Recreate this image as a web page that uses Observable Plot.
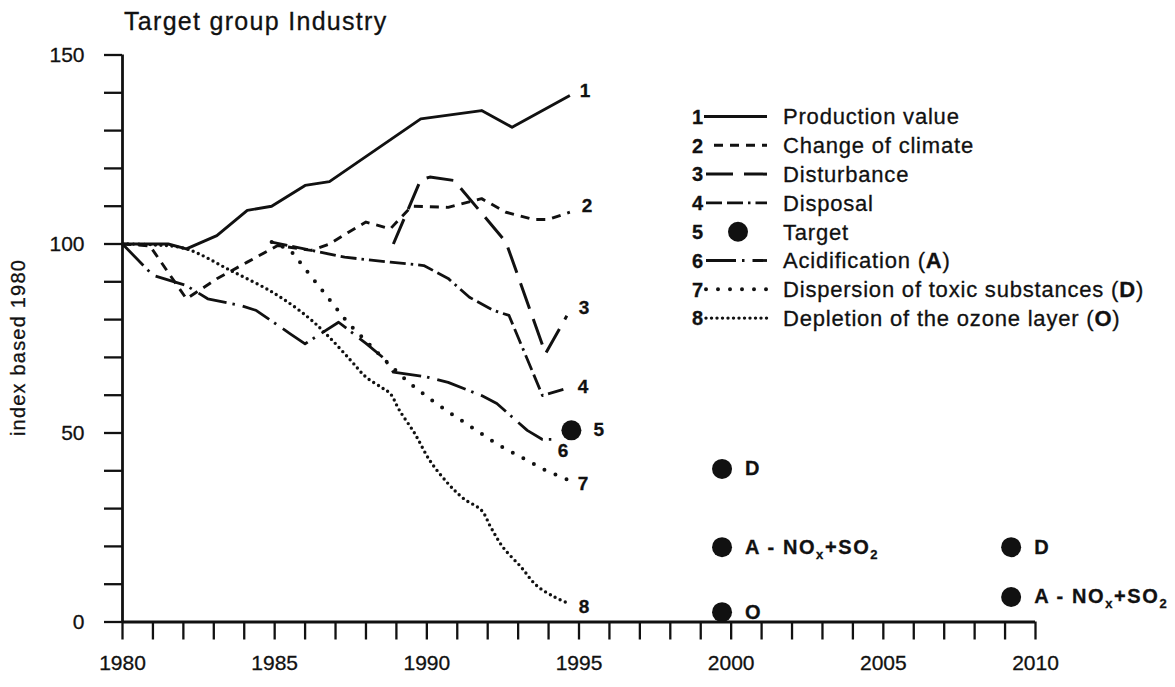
<!DOCTYPE html>
<html>
<head>
<meta charset="utf-8">
<script src="https://cdn.jsdelivr.net/npm/d3@7"></script>
<script src="https://cdn.jsdelivr.net/npm/@observablehq/plot@0.6"></script>
<style>
  body { margin: 0; background: #fff; font-family: "Liberation Sans", Arial, sans-serif; color: #111; }
  #wrap { position: relative; width: 1175px; height: 687px; overflow: hidden; }
  #title { position: relative; height: 40px; }
  #title span { position: absolute; left: 124px; top: 9px; font-size: 25px; line-height: 1; letter-spacing: 1.3px; white-space: nowrap; -webkit-text-stroke: 0.3px #111; }
  #legend { position: absolute; left: 0; top: 0; pointer-events: none; }
  #wrap svg text { stroke: #111; stroke-width: 0.3px; }
</style>
</head>
<body>
<div id="wrap">
  <div id="title"><span>Target group Industry</span></div>
  <div id="chart"></div>
</div>
<script>
// ---------------- data ----------------
const seriesNumbers = ["1", "2", "3", "4", "5", "6", "7", "8"];
const seriesNames = [
  "Production value", "Change of climate", "Disturbance", "Disposal", "Target",
  "Acidification (A)", "Dispersion of toxic substances (D)", "Depletion of the ozone layer (O)"
];

// 1 Production value
const s1Years  = [1980, 1981.5, 1982.1, 1983.1, 1984.1, 1984.9, 1986, 1986.8, 1989.8, 1991.8, 1992.8, 1994.7];
const s1Values = [100, 100, 98.7, 102.2, 108.9, 110, 115.5, 116.5, 133.1, 135.3, 130.9, 139.3];
// 2 Change of climate
const s2Years  = [1980, 1980.9, 1982.1, 1983.1, 1984.1, 1985.1, 1986.2, 1986.8, 1987.4, 1988, 1988.8, 1989.5, 1990.7, 1991.8, 1992.6, 1993.5, 1994, 1994.7];
const s2Values = [100, 99.5, 85.5, 90.8, 95.2, 99.6, 98.3, 100, 103, 105.8, 104, 110, 109.7, 112, 108.4, 106.5, 106.5, 108.4];
// 3 Disturbance
const s3Years  = [1988.9, 1989.8, 1990.1, 1990.9, 1992.6, 1993.9, 1994.6];
const s3Values = [100, 117, 117.7, 116.8, 100.5, 71, 81];
// 4 Disposal
const s4Years  = [1984.9, 1986.2, 1987.3, 1988.8, 1989.9, 1990.7, 1991.4, 1992.2, 1992.7, 1993.8, 1994.6];
const s4Values = [100.5, 98.3, 96.5, 95.2, 94.3, 90.9, 85.9, 82.4, 81.1, 59.9, 61.8];
// 6 Acidification (A)
const s6Years  = [1980, 1981, 1982.1, 1982.8, 1983.9, 1984.4, 1985.5, 1986, 1987.1, 1988, 1988.6, 1988.9, 1990, 1990.7, 1991.8, 1992.3, 1993.3, 1993.8, 1994.3];
const s6Values = [100, 91.7, 89, 85.5, 83.7, 82.4, 76.3, 73.6, 79.3, 73.7, 69.7, 66.1, 64.8, 63.4, 59.9, 57.8, 50.7, 48.3, 48.3];
// 7 Dispersion of toxic substances (D)
const s7Years  = [1984.9, 1985.5, 1985.7, 1987.4, 1988.7, 1989.4, 1990.1, 1990.8, 1991.55, 1992.3, 1993.1, 1993.9, 1994.7];
const s7Values = [100.5, 98.5, 96.5, 79.2, 68.7, 63.4, 59, 55.1, 51.1, 47.1, 43.6, 40.1, 37.4];
// 8 Depletion of the ozone layer (O)
const s8Years  = [1980, 1981, 1982.1, 1983.55, 1985, 1986.1, 1986.8, 1987.5, 1988, 1988.5, 1988.8, 1989.1, 1989.6, 1990.1, 1990.7, 1991.2, 1991.8, 1992.1, 1992.5, 1993.1, 1993.6, 1994.2, 1994.7];
const s8Values = [100, 99.8, 98.7, 93, 86.9, 80.6, 75.3, 69.2, 64.8, 62.1, 60.4, 56, 49.9, 42.7, 36.6, 32.7, 29.5, 25.1, 19.8, 14.5, 9.7, 6.6, 4.8];
// 5 Targets
const targetYears  = [1994.75, 1999.7, 1999.7, 1999.7, 2009.2, 2009.2];
const targetValues = [50.7, 40.5, 19.8, 2.6, 19.8, 6.6];
const targetLabels = ["", "D", "A - NOx+SO2", "O", "D", "A - NOx+SO2"];

// axis ticks
const yTicks = d3.range(0, 151, 10);
const yTickLabels = [0, 50, 100, 150];
const xTicks = d3.range(1980, 2011, 1);
const xTickLabels = [1980, 1985, 1990, 1995, 2000, 2005, 2010];

// ---------------- tables built from the arrays ----------------
const toRows = (years, values) => years.map((year, i) => ({year, value: values[i]}));
const series = {
  "1": toRows(s1Years, s1Values),
  "2": toRows(s2Years, s2Values),
  "3": toRows(s3Years, s3Values),
  "4": toRows(s4Years, s4Values),
  "6": toRows(s6Years, s6Values),
  "7": toRows(s7Years, s7Values),
  "8": toRows(s8Years, s8Values)
};
const targets = targetYears.map((year, i) => ({year, value: targetValues[i], label: targetLabels[i]}));

// ---------------- styles ----------------
const INK = "#111";
const lineStyle = {
  "1": {strokeWidth: 2.9, strokeDasharray: null, strokeLinecap: "butt", curve: "linear"},
  "2": {strokeWidth: 2.9, strokeDasharray: "9 7", strokeLinecap: "butt", curve: "linear"},
  "3": {strokeWidth: 3.0, strokeDasharray: "27 11", strokeLinecap: "butt", curve: "linear"},
  "4": {strokeWidth: 2.8, strokeDasharray: "16 5 16 5 2.5 5", strokeLinecap: "butt", curve: "linear"},
  "6": {strokeWidth: 2.8, strokeDasharray: "30 6 2.5 8", strokeLinecap: "butt", curve: "linear"},
  "7": {strokeWidth: 4.0, strokeDasharray: "0 12", strokeLinecap: "round", curve: "linear"},
  "8": {strokeWidth: 3.4, strokeDasharray: "0 5.5", strokeLinecap: "round", curve: "catmull-rom"}
};
const labelOffset = {
  "1": [10, -5], "2": [12, -6], "3": [12, -8], "4": [11, -1],
  "6": [0, 11], "7": [8, 3], "8": [9, 3]
};

const lineMarks = [];
const labelMarks = [];
for (const k of Object.keys(series)) {
  const st = lineStyle[k];
  lineMarks.push(Plot.line(series[k], {
    x: "year", y: "value", stroke: INK, strokeWidth: st.strokeWidth,
    strokeDasharray: st.strokeDasharray || undefined, strokeLinecap: st.strokeLinecap,
    strokeLinejoin: "round", curve: st.curve
  }));
  const last = series[k][series[k].length - 1];
  labelMarks.push(Plot.text([last], {
    x: "year", y: "value", text: () => k, dx: labelOffset[k][0], dy: labelOffset[k][1],
    textAnchor: "start", fontWeight: "bold", fontSize: 19, fill: INK
  }));
}
// label "5" beside the first target dot
labelMarks.push(Plot.text([targets[0]], {
  x: "year", y: "value", text: () => "5", dx: 22, dy: 0,
  textAnchor: "start", fontWeight: "bold", fontSize: 19, fill: INK
}));

const chart = Plot.plot({
  width: 1175,
  height: 647,
  marginLeft: 122,
  marginRight: 140,
  marginTop: 14.5,
  marginBottom: 65.5,
  x: {domain: [1980, 2010]},
  y: {domain: [0, 150]},
  style: {fontFamily: '"Liberation Sans", Arial, sans-serif', fontSize: "21px", color: INK, background: "transparent", overflow: "visible"},
  marks: [
    Plot.axisY({ticks: yTicks, tickSize: 18, tickPadding: 20, strokeWidth: 2.3, label: null,
      tickFormat: d => yTickLabels.includes(d) ? String(d) : ""}),
    Plot.axisX({ticks: xTicks, tickSize: 18, tickPadding: 15, strokeWidth: 2.3, label: null,
      tickFormat: d => xTickLabels.includes(d) ? String(d) : ""}),
    Plot.ruleY([0], {stroke: INK, strokeWidth: 2.8}),
    Plot.ruleX([1980], {stroke: INK, strokeWidth: 2.8}),
    Plot.text(["index based 1980"], {frameAnchor: "left", text: d => d, rotate: -90, dx: -104, dy: 9, textAnchor: "middle", fontSize: 20, fill: INK}),
    ...lineMarks,
    Plot.dot(targets, {x: "year", y: "value", r: 10, fill: INK, stroke: "none"}),
    Plot.text(targets.filter(d => d.label), {x: "year", y: "value", text: "label", dx: 23, textAnchor: "start",
      fontWeight: "bold", fontSize: 20, fill: INK}),
    ...labelMarks
  ]
});
document.getElementById("chart").appendChild(chart);

// post-process: letter spacing on y label, subscripts on NOx+SO2
d3.select(chart).selectAll("text").each(function () {
  const t = this.textContent;
  if (t === "index based 1980") this.setAttribute("letter-spacing", "1.2");
  if (t === "A - NOx+SO2") {
    this.setAttribute("letter-spacing", "1.6");
    while (this.firstChild) this.removeChild(this.firstChild);
    const sel = d3.select(this);
    sel.append("tspan").text("A - NO");
    sel.append("tspan").attr("font-size", 13).attr("dy", 5).text("x");
    sel.append("tspan").attr("dy", -5).text("+SO");
    sel.append("tspan").attr("font-size", 13).attr("dy", 5).text("2");
  }
});

// ---------------- legend ----------------
const legendItems = seriesNumbers.map((n, i) => ({n, name: seriesNames[i]}));
const legend = d3.select("#wrap").append("svg")
  .attr("id", "legend").attr("width", 1175).attr("height", 687)
  .style("font-family", '"Liberation Sans", Arial, sans-serif');
const row0 = 116.5, rowStep = 28.8;
legendItems.forEach((it, i) => {
  const cy = row0 + i * rowStep;
  const g = legend.append("g").attr("transform", `translate(0,${cy})`);
  g.append("text").attr("x", 692).attr("y", 0).attr("dy", "0.36em")
    .attr("font-weight", "bold").attr("font-size", 20).attr("fill", INK).text(it.n);
  if (it.n === "5") {
    g.append("circle").attr("cx", 738).attr("cy", 0).attr("r", 10).attr("fill", INK);
  } else {
    const st = lineStyle[it.n];
    const x1 = it.n === "2" ? 714 : (it.n === "1" ? 704 : 706);
    g.append("line").attr("x1", x1).attr("x2", 767).attr("y1", 0).attr("y2", 0)
      .attr("stroke", INK).attr("stroke-width", st.strokeWidth)
      .attr("stroke-dasharray", st.strokeDasharray)
      .attr("stroke-linecap", st.strokeLinecap);
  }
  const tx = g.append("text").attr("x", 783).attr("y", 0).attr("dy", "0.36em")
    .attr("font-size", 22).attr("letter-spacing", 0.8).attr("fill", INK);
  const m = it.name.match(/^(.*)\((.)\)$/);
  if (m) {
    tx.append("tspan").text(m[1] + "(");
    tx.append("tspan").attr("font-weight", "bold").text(m[2]);
    tx.append("tspan").text(")");
  } else {
    tx.text(it.name);
  }
});
</script>
</body>
</html>
